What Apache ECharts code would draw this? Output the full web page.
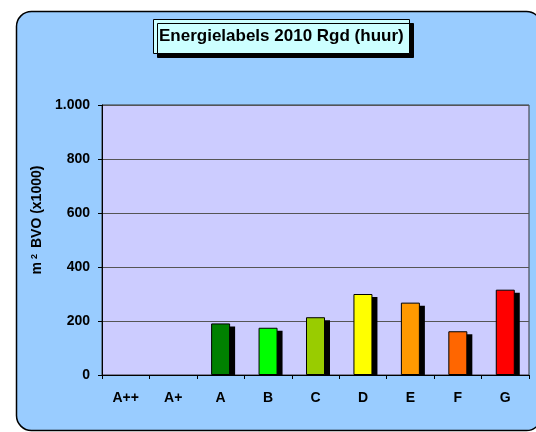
<!DOCTYPE html>
<html>
<head>
<meta charset="utf-8">
<script src="https://cdn.jsdelivr.net/npm/echarts@6/dist/echarts.min.js"></script>
<style>
  html, body { margin: 0; padding: 0; background: #fff; }
  #chart { width: 536px; height: 432px; }
</style>
</head>
<body>
<div id="chart"></div>
<script>
const categories = ['A++', 'A+', 'A', 'B', 'C', 'D', 'E', 'F', 'G'];
const values = [0, 0, 191, 175, 214, 300, 268, 162, 316];
const barColors = ['#008000', '#008000', '#008000', '#00FF00', '#99CC00', '#FFFF00', '#FF9900', '#FF6600', '#FF0000'];
const yTicks = [0, 200, 400, 600, 800, 1000];

const font = 'Arial, "Liberation Sans", sans-serif';
const BAR_W = 19;

const chart = echarts.init(document.getElementById('chart'));

// black drop shadow behind each bar, shifted right and down, cut at the zero line
function renderShadow(params, api) {
  const v = api.value(1);
  if (!v) return null;
  const top = api.coord([api.value(0), v]);
  const base = api.coord([api.value(0), 0]);
  const x = top[0] - BAR_W / 2 + 4;
  const y = top[1] + 3;
  return {
    type: 'rect',
    shape: { x: x, y: y, width: BAR_W + 1, height: base[1] - y },
    style: { fill: '#000' }
  };
}

const option = {
  animation: false,
  backgroundColor: '#fff',
  graphic: [
    {
      type: 'rect',
      z: -10,
      shape: { x: 16.5, y: 11.5, width: 525, height: 419, r: 15 },
      style: { fill: '#99CCFF', stroke: '#000', lineWidth: 1.5 }
    }
  ],
  title: {
    text: 'Energielabels 2010 Rgd (huur)',
    left: 153,
    top: 19,
    padding: [9, 6, 9, 6],
    backgroundColor: '#CCFFFF',
    borderColor: '#000',
    borderWidth: 1,
    shadowColor: '#000',
    shadowBlur: 0,
    shadowOffsetX: 4,
    shadowOffsetY: 4,
    textStyle: { fontFamily: font, fontSize: 17, fontWeight: 'bold', color: '#000' }
  },
  grid: {
    left: 102,
    right: 7,
    top: 105,
    bottom: 57,
    show: true,
    backgroundColor: '#CCCCFF',
    borderColor: '#333',
    borderWidth: 1
  },
  xAxis: {
    type: 'category',
    data: categories,
    boundaryGap: true,
    z: 5,
    axisLine: { lineStyle: { color: '#000', width: 1 } },
    axisTick: { show: true, length: 4, lineStyle: { color: '#000' } },
    axisLabel: { margin: 16, fontFamily: font, fontSize: 14, fontWeight: 'bold', color: '#000' }
  },
  yAxis: {
    type: 'value',
    min: yTicks[0],
    max: yTicks[yTicks.length - 1],
    interval: 200,
    name: 'm{sup|2} BVO (x1000)',
    nameLocation: 'middle',
    nameGap: 51,
    nameTextStyle: {
      fontFamily: font, fontSize: 14, fontWeight: 'bold', color: '#000',
      padding: [0, 0, 0, 40],
      rich: {
        sup: { fontFamily: font, fontSize: 9, fontWeight: 'bold', color: '#000', verticalAlign: 'top', padding: [0, 2, 6, 3] }
      }
    },
    axisLine: { show: true, lineStyle: { color: '#000', width: 1 } },
    axisTick: { show: true, length: 4, lineStyle: { color: '#000' } },
    splitLine: { show: true, lineStyle: { color: '#555', width: 1 } },
    axisLabel: {
      margin: 12,
      fontFamily: font,
      fontSize: 14,
      fontWeight: 'bold',
      color: '#000',
      formatter: v => v >= 1000 ? Math.floor(v / 1000) + '.' + String(v % 1000).padStart(3, '0') : String(v)
    }
  },
  series: [
    {
      type: 'custom',
      z: 1,
      renderItem: renderShadow,
      data: values.map((v, i) => [i, v])
    },
    {
      type: 'bar',
      z: 2,
      barWidth: BAR_W,
      data: values.map((v, i) => ({
        value: v,
        itemStyle: { color: barColors[i], opacity: v ? 1 : 0 }
      })),
      itemStyle: { borderColor: '#000', borderWidth: 1 }
    }
  ]
};

chart.setOption(option);
</script>
</body>
</html>
